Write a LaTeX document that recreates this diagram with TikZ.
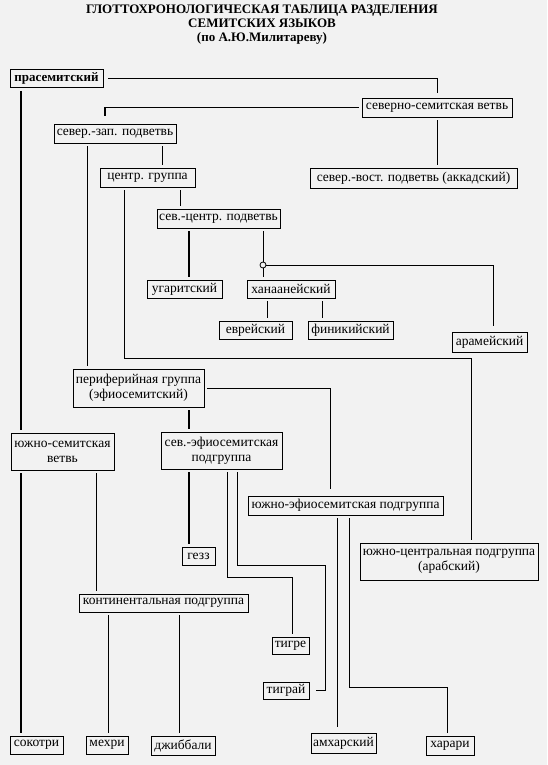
\documentclass[tikz,border=0pt]{standalone}
\usepackage{fontspec}
\setmainfont{Liberation Serif}
\usetikzlibrary{positioning}
\tikzset{
  box/.style={draw,line width=0.8pt,inner sep=2pt,align=center,font=\fontsize{13.5}{15}\selectfont},
  link/.style={draw,line width=0.8pt,shorten <=3pt,shorten >=3pt},
  trunk/.style={link,line width=2.4pt}
}

\begin{document}
\begin{tikzpicture}[x=1pt,y=-1pt]
\fill[black!5] (0,0) rectangle (547,765);
\useasboundingbox (0,0) rectangle (547,765);
\node[font=\bfseries\fontsize{13}{14}\selectfont,align=center] (title) at (262,25) {ГЛОТТОХРОНОЛОГИЧЕСКАЯ ТАБЛИЦА РАЗДЕЛЕНИЯ\\СЕМИТСКИХ ЯЗЫКОВ\\(по А.Ю.Милитареву)};

\node[box,font=\bfseries\fontsize{13}{15}\selectfont,minimum width=93pt,minimum height=18pt] (pra) at (56.5,78.5) {прасемитский};
\node[box,minimum width=150pt,minimum height=19pt] (sev) at (437,107.5) {северно-семитская ветвь};
\node[box,minimum width=122pt,minimum height=19pt] (szap) at (115,133.5) {север.-зап. подветвь};
\node[box,minimum width=95pt,minimum height=19pt] (centr) at (147.5,177.5) {центр. группа};
\node[box,minimum width=207pt,minimum height=20pt] (svost) at (413.5,178) {север.-вост. подветвь (аккадский)};
\node[box,minimum width=123pt,minimum height=19pt] (scentr) at (218.5,218.5) {сев.-центр. подветвь};
\node[circle,draw,line width=0.8pt,inner sep=0pt,minimum size=6pt] (knot) at (263,265) {};
\node[box,minimum width=75pt,minimum height=18pt] (ugar) at (184.5,289) {угаритский};
\node[box,minimum width=88pt,minimum height=18pt] (hanaan) at (291,289) {ханаанейский};
\node[box,minimum width=73pt,minimum height=18pt] (evr) at (255.5,330) {еврейский};
\node[box,minimum width=85pt,minimum height=18pt] (finik) at (350.5,330) {финикийский};
\node[box,minimum width=75pt,minimum height=20pt] (aram) at (489.5,342) {арамейский};
\node[box,minimum width=131pt,minimum height=38pt] (perif) at (138.5,388) {периферийная группа\\(эфиосемитский)};
\node[box,minimum width=103pt,minimum height=37pt] (yuzhsem) at (62.5,451.5) {южно-семитская\\ветвь};
\node[box,minimum width=121pt,minimum height=37pt] (sevef) at (221.5,450.5) {сев.-эфиосемитская\\подгруппа};
\node[box,minimum width=195pt,minimum height=19pt] (yuzhef) at (345.5,505.5) {южно-эфиосемитская подгруппа};
\node[box,minimum width=33pt,minimum height=18pt] (gez) at (198.5,556) {гезз};
\node[box,minimum width=178pt,minimum height=37pt] (yuzhcentr) at (449,561.5) {южно-центральная подгруппа\\(арабский)};
\node[box,minimum width=169pt,minimum height=18pt] (kontin) at (163.5,603) {континентальная подгруппа};
\node[box,minimum width=37pt,minimum height=17pt] (tigre) at (290.5,645.5) {тигре};
\node[box,minimum width=46pt,minimum height=17pt] (tigray) at (286,690.5) {тиграй};
\node[box,minimum width=53pt,minimum height=18pt] (sokotri) at (36.5,745) {сокотри};
\node[box,minimum width=42pt,minimum height=18pt] (mehri) at (107,745) {мехри};
\node[box,minimum width=64pt,minimum height=19pt] (dzhib) at (183,745.5) {джиббали};
\node[box,minimum width=65pt,minimum height=20pt] (amhar) at (343.5,743) {амхарский};
\node[box,minimum width=48pt,minimum height=19pt] (harari) at (450,745.5) {харари};

\draw[link,shorten <=5pt,shorten >=5pt] (pra.east) -| (sev.north);
\draw[trunk] (pra.south -| 21,0) -- (yuzhsem.north -| 21,0);
\draw[link,shorten >=8pt] (sev.west) -| (szap.north -| 105,0);
\draw[link,line width=1.6pt,shorten <=0pt,shorten >=8pt] (sev.west -| 105,0) -- (szap.north -| 105,0);
\draw[link] (sev.south) -- (svost.north -| sev.south);
\draw[link] (szap.south -| 87,0) -- (perif.north -| 87,0);
\draw[link] (szap.south -| 162,0) -- (centr.north -| 162,0);
\draw[link] (centr.south -| 124,0) |- (471,358) -- (yuzhcentr.north -| 471,0);
\draw[link] (centr.south -| 180,0) -- (scentr.north -| 180,0);
\draw[trunk] (scentr.south -| 189,0) -- (ugar.north -| 189,0);
\draw[link,shorten >=0pt] (scentr.south -| 263,0) -- (knot.north);
\draw[link,shorten <=0pt] (knot.south) -- (hanaan.north -| 263,0);
\draw[link,shorten <=0pt,shorten >=6pt] (knot.east) -| (aram.north -| 493,0);
\draw[link] (hanaan.south -| 267,0) -- (evr.north -| 267,0);
\draw[link] (hanaan.south -| 322,0) -- (finik.north -| 322,0);
\draw[link,shorten >=7pt] (perif.east) -| (yuzhef.north -| 330,0);
\draw[trunk] (perif.south -| 189,0) -- (sevef.north -| 189,0);
\draw[trunk] (yuzhsem.south -| 21,0) -- (sokotri.north -| 21,0);
\draw[link] (yuzhsem.south -| 96,0) -- (kontin.north -| 96,0);
\draw[trunk] (sevef.south -| 189,0) -- (gez.north -| 189,0);
\draw[link] (sevef.south -| 227,0) |- (292,577) -- (tigre.north -| 292,0);
\draw[link,shorten >=7pt] (sevef.south -| 237,0) |- (325,565) |- (tigray.east);
\draw[link,shorten >=6pt] (yuzhef.south -| 337,0) -- (amhar.north -| 337,0);
\draw[link] (yuzhef.south -| 349,0) |- (447,687) -- (harari.north -| 447,0);
\draw[link] (kontin.south -| 108,0) -- (mehri.north -| 108,0);
\draw[link] (kontin.south -| 179,0) -- (dzhib.north -| 179,0);
\end{tikzpicture}
\end{document}
